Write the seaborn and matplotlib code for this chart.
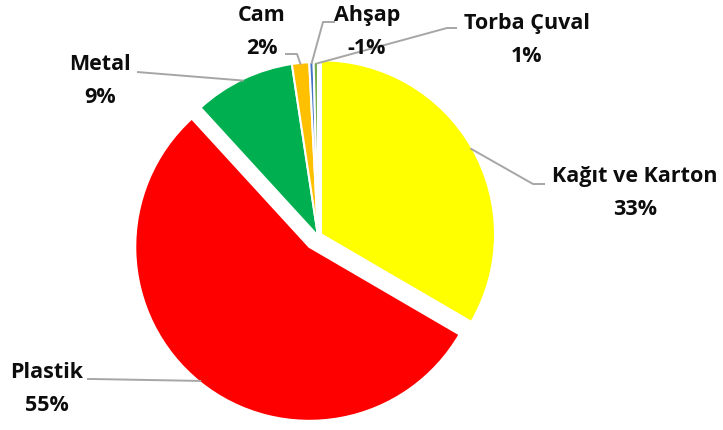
import numpy as np
import matplotlib
matplotlib.use("Agg")
import matplotlib.pyplot as plt
import seaborn as sns

# Data (clockwise from 12 o'clock)
categories = ["Kağıt ve Karton", "Plastik", "Metal", "Cam", "Ahşap", "Torba Çuval"]
shares = [33.4, 54.8, 9.4, 1.6, 0.4, 0.4]
pct_labels = ["33%", "55%", "9%", "2%", "-1%", "1%"]
colors = ["#FFFF00", "#FF0000", "#00B050", "#FFC000", "#4472C4", "#70AD47"]
explode = [0.02, 0.08, 0, 0, 0, 0]

# Layout in reference pixels: pie centre, radius, label centres, leader elbows
W, H = 723, 430
CX, CY, R = 318, 236, 174
label_pos = [(635, 193), (47, 389), (100, 81), (262, 32), (367, 32), (527, 40)]
elbows = [[(533, 184), (545, 184)],
          [(92, 379), (87, 379)],
          [(137, 72)],
          [(297, 54), (285, 54)],
          [(323, 22), (335, 22)],
          [(447, 28), (457, 28)]]


def px(x, y):
    return (x - CX) / R, (CY - y) / R


sns.set_theme(style="white")
plt.rcParams["font.family"] = ["Open Sans", "DejaVu Sans"]

fig = plt.figure(figsize=(W / 100, H / 100), dpi=100)
ax = fig.add_axes([0, 0, 1, 1])

wedges, _ = ax.pie(shares, colors=colors, explode=explode, startangle=90,
                   counterclock=False, radius=1.0,
                   wedgeprops=dict(edgecolor="white", linewidth=1.5))

# pie() resets the limits, so set the pixel-matched frame afterwards
ax.set_aspect("auto")
ax.set_xlim(px(0, 0)[0], px(W, 0)[0])
ax.set_ylim(px(0, H)[1], px(0, 0)[1])
ax.axis("off")

for i, w in enumerate(wedges):
    mid = np.deg2rad((w.theta1 + w.theta2) / 2)
    cx, cy = w.center
    start = (cx + np.cos(mid) * 0.99, cy + np.sin(mid) * 0.99)
    pts = [start] + [px(*p) for p in elbows[i]]
    xs, ys = zip(*pts)
    ax.plot(xs, ys, color="#A6A6A6", lw=1.4, solid_capstyle="butt", zorder=1)
    lx, ly = px(*label_pos[i])
    ax.text(lx, ly, f"{categories[i]}\n{pct_labels[i]}", ha="center", va="center",
            fontsize=15.5, fontweight="bold", color="#0d0d0d", linespacing=1.7)

fig.savefig("out.png", dpi=100, facecolor="white")
